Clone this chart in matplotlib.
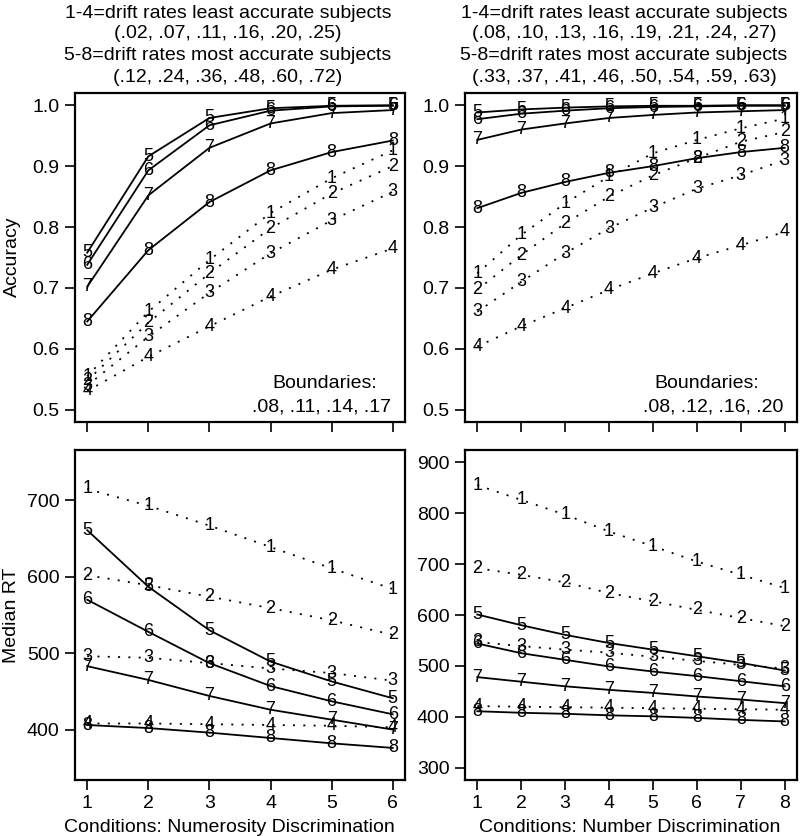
import numpy as np
import matplotlib
matplotlib.use("Agg")
import matplotlib.pyplot as plt

plt.rcParams['font.family'] = ['Liberation Sans', 'DejaVu Sans']

# --- data ---
cond_numerosity = [1, 2, 3, 4, 5, 6]
cond_number = [1, 2, 3, 4, 5, 6, 7, 8]
series_labels = ['1', '2', '3', '4', '5', '6', '7', '8']

# accuracy, numerosity discrimination (series 1-8)
acc_numerosity = [
    [0.555, 0.661, 0.746, 0.823, 0.880, 0.926],
    [0.548, 0.643, 0.724, 0.798, 0.855, 0.900],
    [0.540, 0.620, 0.692, 0.757, 0.811, 0.858],
    [0.531, 0.587, 0.637, 0.686, 0.730, 0.765],
    [0.758, 0.916, 0.979, 0.995, 0.999, 1.000],
    [0.738, 0.893, 0.967, 0.991, 0.998, 0.999],
    [0.702, 0.852, 0.930, 0.970, 0.987, 0.992],
    [0.645, 0.762, 0.841, 0.893, 0.923, 0.942],
]

# accuracy, number discrimination
acc_number = [
    [0.724, 0.787, 0.839, 0.883, 0.921, 0.943, 0.962, 0.978],
    [0.697, 0.754, 0.806, 0.850, 0.885, 0.913, 0.940, 0.956],
    [0.661, 0.710, 0.757, 0.798, 0.832, 0.863, 0.885, 0.910],
    [0.604, 0.637, 0.667, 0.697, 0.724, 0.749, 0.770, 0.792],
    [0.988, 0.993, 0.996, 0.998, 0.999, 0.999, 1.000, 1.000],
    [0.977, 0.986, 0.991, 0.995, 0.997, 0.998, 0.999, 0.999],
    [0.943, 0.960, 0.970, 0.979, 0.984, 0.988, 0.990, 0.992],
    [0.831, 0.856, 0.874, 0.889, 0.900, 0.913, 0.923, 0.930],
]

# median RT, numerosity discrimination
rt_numerosity = [
    [715, 693, 667, 639, 611, 584],
    [602, 589, 574, 559, 543, 524],
    [496, 494, 487, 480, 474, 464],
    [408, 408, 407, 406, 405, 403],
    [661, 587, 530, 489, 463, 441],
    [570, 528, 487, 457, 437, 420],
    [483, 465, 444, 426, 413, 400],
    [406, 402, 396, 389, 382, 376],
]

# median RT, number discrimination
rt_number = [
    [855, 826, 797, 764, 735, 705, 679, 653],
    [692, 679, 664, 643, 627, 610, 594, 578],
    [547, 539, 532, 526, 518, 510, 502, 495],
    [421, 420, 419, 418, 417, 416, 415, 414],
    [601, 580, 561, 545, 532, 519, 506, 491],
    [544, 525, 512, 499, 489, 480, 470, 460],
    [478, 469, 460, 453, 447, 440, 434, 427],
    [411, 408, 406, 403, 401, 398, 394, 391],
]

titles_left = ["1-4=drift rates least accurate subjects",
               "(.02, .07, .11, .16, .20, .25)",
               "5-8=drift rates most accurate subjects",
               "(.12, .24, .36, .48, .60, .72)"]
titles_right = ["1-4=drift rates least accurate subjects",
                "(.08, .10, .13, .16, .19, .21, .24, .27)",
                "5-8=drift rates most accurate subjects",
                "(.33, .37, .41, .46, .50, .54, .59, .63)"]
bounds_left = ".08, .11, .14, .17"
bounds_right = ".08, .12, .16, .20"

W, H = 800, 836
fig = plt.figure(figsize=(W / 100, H / 100), dpi=100)


def px_axes(x0, y0, x1, y1):
    return fig.add_axes([x0 / W, 1 - y1 / H, (x1 - x0) / W, (y1 - y0) / H])


ax_tl = px_axes(75, 93, 405, 422)
ax_tr = px_axes(465, 93, 797, 422)
ax_bl = px_axes(75, 450, 405, 780)
ax_br = px_axes(465, 450, 797, 780)

DOTTED = (0, (1.1, 4.6))


def draw_panel(ax, x, data):
    for i, vals in enumerate(data):
        ls = DOTTED if i < 4 else '-'
        ax.plot(x, vals, linestyle=ls, color='black', lw=1.3, zorder=2)
        for xi, yi in zip(x, vals):
            ax.text(xi, yi, series_labels[i], ha='center', va='center',
                    fontsize=13, zorder=3)
    ax.set_xticks(x)
    ax.tick_params(direction='out', length=7, width=1.2, labelsize=14, pad=4)
    for sp in ax.spines.values():
        sp.set_linewidth(1.6)


draw_panel(ax_tl, cond_numerosity, acc_numerosity)
draw_panel(ax_tr, cond_number, acc_number)
draw_panel(ax_bl, cond_numerosity, rt_numerosity)
draw_panel(ax_br, cond_number, rt_number)

for ax in (ax_tl, ax_bl):
    ax.set_xlim(0.8, 6.2)
for ax in (ax_tr, ax_br):
    ax.set_xlim(0.72, 8.28)

for ax in (ax_tl, ax_tr):
    ax.set_ylim(0.48, 1.02)
    ax.set_yticks([0.5, 0.6, 0.7, 0.8, 0.9, 1.0])
    ax.set_yticklabels(['0.5', '0.6', '0.7', '0.8', '0.9', '1.0'])
    ax.tick_params(labelbottom=False)

ax_bl.set_ylim(334, 766)
ax_bl.set_yticks([400, 500, 600, 700])
ax_br.set_ylim(276, 924)
ax_br.set_yticks([300, 400, 500, 600, 700, 800, 900])

# boundary notes
ax_tl.text(0.758, 0.118, "Boundaries:", transform=ax_tl.transAxes,
           ha='center', va='center', fontsize=14)
ax_tl.text(0.748, 0.046, bounds_left, transform=ax_tl.transAxes,
           ha='center', va='center', fontsize=14)
ax_tr.text(0.729, 0.118, "Boundaries:", transform=ax_tr.transAxes,
           ha='center', va='center', fontsize=14)
ax_tr.text(0.747, 0.046, bounds_right, transform=ax_tr.transAxes,
           ha='center', va='center', fontsize=14)

# titles
for k, y in enumerate([13, 34, 56, 77]):
    fig.text(228 / W, 1 - y / H, titles_left[k], ha='center', va='center', fontsize=14)
    fig.text(624 / W, 1 - y / H, titles_right[k], ha='center', va='center', fontsize=14)

# axis labels
fig.text(12 / W, 1 - 257 / H, "Accuracy", rotation=90, ha='center', va='center', fontsize=14)
fig.text(12 / W, 1 - 615 / H, "Median RT", rotation=90, ha='center', va='center', fontsize=14)
fig.text(229 / W, 1 - 828 / H, "Conditions: Numerosity Discrimination",
         ha='center', va='center', fontsize=14)
fig.text(630 / W, 1 - 828 / H, "Conditions: Number Discrimination",
         ha='center', va='center', fontsize=14)

fig.savefig("out.png", dpi=100)
